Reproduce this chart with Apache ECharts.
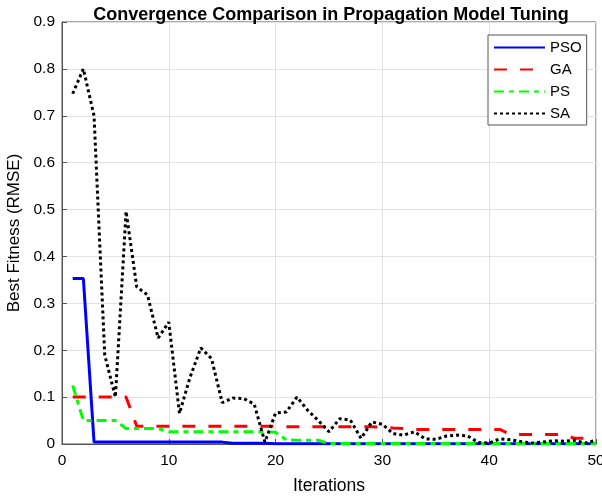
<!DOCTYPE html>
<html>
<head>
<meta charset="utf-8">
<script src="https://cdn.jsdelivr.net/npm/echarts@6/dist/echarts.min.js"></script>
<style>
    body { margin: 0; background: #fff; }
    #chart { width: 602px; height: 499px; }
</style>
</head>
<body>
<div id="chart"></div>
<script>
// iterations on the x axis
var iterations = [1, 2, 3, 4, 5, 6, 7, 8, 9, 10, 11, 12, 13, 14, 15, 16, 17, 18, 19, 20,
    21, 22, 23, 24, 25, 26, 27, 28, 29, 30, 31, 32, 33, 34, 35, 36, 37, 38, 39, 40,
    41, 42, 43, 44, 45, 46, 47, 48, 49, 50];

// best fitness (RMSE) per algorithm
var psoValues = [0.353, 0.353, 0.004, 0.004, 0.004, 0.004, 0.004, 0.004, 0.004, 0.004,
    0.004, 0.004, 0.004, 0.004, 0.004, 0.0015, 0.0015, 0.0015, 0.0015, 0.0005,
    0.0005, 0.0005, 0.0005, 0.0005, 0.0005, 0.0005, 0.0005, 0.0005, 0.0005, 0.0005,
    0.0005, 0.0005, 0.0005, 0.0005, 0.0005, 0.0005, 0.0005, 0.0005, 0.0005, 0.0005,
    0.0005, 0.0005, 0.0005, 0.0005, 0.0005, 0.0005, 0.0005, 0.0005, 0.0005, 0.0005];
var gaValues = [0.1, 0.1, 0.1, 0.1, 0.1, 0.1, 0.038, 0.038, 0.038, 0.038,
    0.038, 0.038, 0.038, 0.038, 0.038, 0.038, 0.038, 0.038, 0.038, 0.038,
    0.037, 0.037, 0.037, 0.037, 0.037, 0.037, 0.037, 0.037, 0.037, 0.036,
    0.034, 0.033, 0.031, 0.031, 0.031, 0.031, 0.031, 0.031, 0.031, 0.031,
    0.031, 0.02, 0.02, 0.02, 0.02, 0.02, 0.02, 0.012, 0.012, 0.012];
var psValues = [0.125, 0.05, 0.05, 0.05, 0.05, 0.033, 0.033, 0.033, 0.033, 0.026,
    0.026, 0.026, 0.026, 0.026, 0.026, 0.026, 0.026, 0.026, 0.026, 0.025,
    0.009, 0.008, 0.008, 0.008, 0.001, 0.001, 0.001, 0.001, 0.001, 0.001,
    0.001, 0.001, 0.001, 0.001, 0.001, 0.001, 0.001, 0.001, 0.001, 0.001,
    0.001, 0.001, 0.001, 0.001, 0.001, 0.001, 0.001, 0.001, 0.001, 0.001];
var saValues = [0.747, 0.80, 0.70, 0.19, 0.10, 0.496, 0.335, 0.318, 0.226, 0.26,
    0.065, 0.143, 0.205, 0.182, 0.088, 0.098, 0.097, 0.085, 0.004, 0.066,
    0.068, 0.10, 0.072, 0.05, 0.026, 0.054, 0.051, 0.012, 0.047, 0.042,
    0.022, 0.019, 0.026, 0.011, 0.01, 0.017, 0.019, 0.017, 0.003, 0.002,
    0.011, 0.009, 0.005, 0.002, 0.004, 0.007, 0.006, 0.008, 0.002, 0.008];

var seriesNames = ['PSO', 'GA', 'PS', 'SA'];

function pairs(values) {
    return iterations.map(function (it, k) { return [it, values[k]]; });
}

var fontFamily = 'Arial, "Liberation Sans", Helvetica, sans-serif';

var chart = echarts.init(document.getElementById('chart'));
chart.setOption({
    animation: false,
    title: {
        text: 'Convergence Comparison in Propagation Model Tuning',
        left: 326,
        textAlign: 'center',
        top: 1,
        textStyle: { fontFamily: fontFamily, fontWeight: 'bold', fontSize: 18, color: '#000' }
    },
    grid: {
        left: 62, right: 6, top: 22, bottom: 55,
        outerBoundsMode: 'none',
        show: true, borderColor: '#555', borderWidth: 1
    },
    legend: {
        data: seriesNames,
        orient: 'vertical',
        left: 488,
        top: 35,
        padding: [5, 5, 4, 5],
        itemWidth: 51,
        itemHeight: 14,
        itemGap: 7,
        itemStyle: { opacity: 0 },
        backgroundColor: '#fff',
        borderColor: '#555',
        borderWidth: 1,
        borderRadius: 0,
        textStyle: { fontFamily: fontFamily, fontSize: 15, color: '#000' }
    },
    xAxis: {
        type: 'value',
        min: 0, max: 50, interval: 10,
        name: 'Iterations',
        nameLocation: 'middle',
        nameGap: 33,
        nameTextStyle: { fontFamily: fontFamily, fontSize: 17.5, color: '#000' },
        axisLine: { lineStyle: { color: '#555' } },
        axisTick: { inside: true, length: 5, lineStyle: { color: '#555' } },
        axisLabel: { fontFamily: fontFamily, fontSize: 15.5, color: '#000', margin: 9 },
        splitLine: { lineStyle: { color: '#e2e2e2' } }
    },
    yAxis: {
        type: 'value',
        min: 0, max: 0.9, interval: 0.1,
        name: 'Best Fitness (RMSE)',
        nameLocation: 'middle',
        nameGap: 37,
        nameTextStyle: { fontFamily: fontFamily, fontSize: 17, color: '#000' },
        axisLine: { show: true, lineStyle: { color: '#555' } },
        axisTick: { show: true, inside: true, length: 5, lineStyle: { color: '#555' } },
        axisLabel: { fontFamily: fontFamily, fontSize: 15.5, color: '#000', margin: 7 },
        splitLine: { lineStyle: { color: '#e2e2e2' } }
    },
    series: [
        {
            name: 'PSO', type: 'line', data: pairs(psoValues), symbol: 'none',
            lineStyle: { color: '#0000ff', width: 3 }, itemStyle: { color: '#0000ff' }, z: 2
        },
        {
            name: 'GA', type: 'line', data: pairs(gaValues), symbol: 'none',
            lineStyle: { color: '#ff0000', width: 3, type: [13, 13] }, itemStyle: { color: '#ff0000' }, z: 3
        },
        {
            name: 'PS', type: 'line', data: pairs(psValues), symbol: 'none',
            lineStyle: { color: '#00ff00', width: 3, type: [10, 5, 5, 5] }, itemStyle: { color: '#00ff00' }, z: 4
        },
        {
            name: 'SA', type: 'line', data: pairs(saValues), symbol: 'none',
            lineStyle: { color: '#000000', width: 3, type: [3, 3] }, itemStyle: { color: '#000000' }, z: 5
        }
    ]
});
</script>
</body>
</html>
